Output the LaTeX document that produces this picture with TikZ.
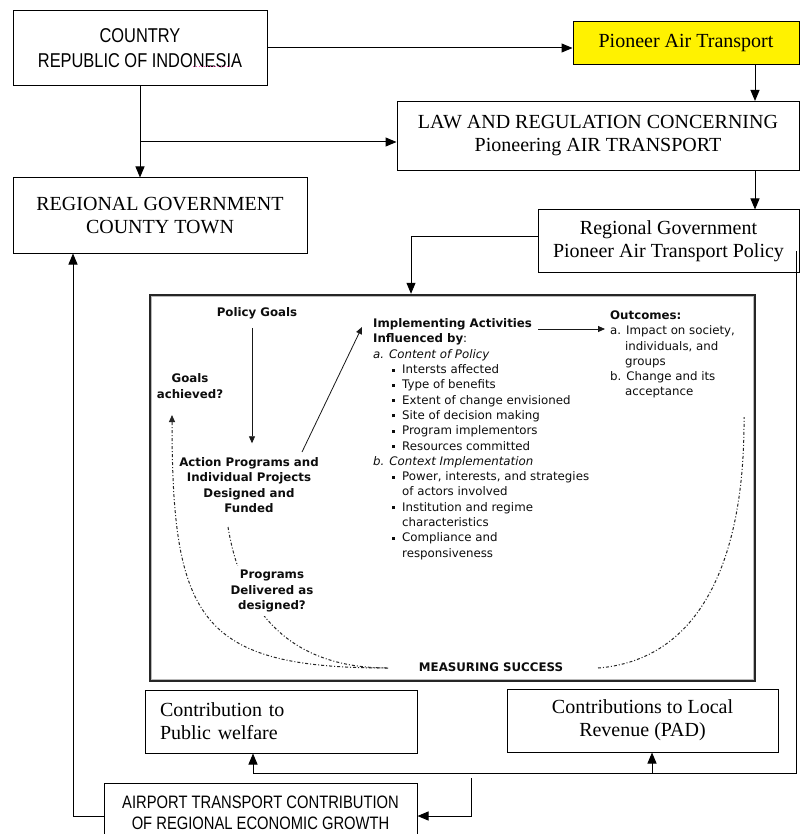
\documentclass[tikz,border=0pt]{standalone}
\usepackage{fontspec}
\setmainfont{Liberation Serif}
\newfontfamily\narrowsans[FakeStretch=0.82]{Liberation Sans}
\newfontfamily\framesans{DejaVu Sans}
\usetikzlibrary{arrows.meta}
\tikzset{>={Triangle[length=11pt,width=9pt]}}
\tikzset{
  box/.style={draw, line width=1pt, rectangle, inner sep=0pt, align=center,
    font=\fontsize{20}{23}\selectfont},
  capsbox/.style={box, font=\narrowsans\fontsize{20}{25}\selectfont},
  conn/.style={line width=1pt, ->},
  insidetext/.style={inner sep=0pt, align=center, text=black!95,
    font=\framesans\fontsize{11.8}{15.3}\selectfont},
  minorarrow/.style={line width=0.8pt, black!90, -{Triangle[length=7pt,width=6pt]}},
  dashdotline/.style={line width=1pt, black!85,
    dash pattern=on 3pt off 2pt on 1pt off 2pt}
}
\newcommand*{\sqb}{\hspace*{19pt}\rule[2pt]{3pt}{3pt}\hspace*{7pt}}
\newcommand*{\subind}{\hspace*{29pt}}
\newcommand*{\hang}{\hspace*{15pt}}

\begin{document}
\begin{tikzpicture}[x=1pt,y=-1pt]
\useasboundingbox (0,0) rectangle (800,834);
% Pixel grid, y downwards

% Upper boxes
\node[capsbox, minimum width=254pt, minimum height=75pt] (country) at (140,48)
  {COUNTRY\\REPUBLIC OF INDONESIA};
\draw[magenta!70, dotted, line width=0.8pt] (193,66) -- (231,66);
\node[box, fill=yellow, minimum width=226pt, minimum height=43pt] (pioneer) at (686,43.5)
  {Pioneer Air Transport};
\node[box, minimum width=402pt, minimum height=69pt] (law) at (598,136)
  {LAW AND REGULATION CONCERNING\\Pioneering AIR TRANSPORT};
\node[box, minimum width=294pt, minimum height=75pt] (county) at (160,215.5)
  {REGIONAL GOVERNMENT\\COUNTY TOWN};
\node[box, minimum width=261pt, minimum height=62pt] (policy) at (668.5,241)
  {Regional Government\\Pioneer Air Transport Policy};

% Upper connectors
\draw[conn] (country.east) -- (country.east -| pioneer.west);
\draw[conn] (country.south) -- (country.south |- county.north);
\coordinate (branch) at (140,142);
\draw[conn] (branch) -- (branch -| law.west);
\draw[conn] (pioneer.south -| 755,0) -- (law.north -| 755,0);
\draw[conn] (law.south -| 755,0) -- (policy.north -| 755,0);

% Implementation frame
\node[draw=black!85, line width=2.4pt, fill=white, minimum width=605pt,
  minimum height=386pt] (frame) at (452.5,488) {};
\draw[gray!55, line width=1pt] ([shift={(2.7pt,-2.7pt)}]frame.north west)
  rectangle ([shift={(-2.7pt,2.7pt)}]frame.south east);
\draw[conn] (policy.west |- 0,236) -| (frame.north -| 411,0);

% Feedback curves
\draw[dashdotline, -{Triangle[length=7pt,width=6pt]}]
  (388,668) .. controls (200,668) and (172,620) .. (172,415);
\draw[dashdotline] (228,527) .. controls (240,600) and (280,668) .. (388,668);
\draw[dashdotline] (598,668) .. controls (700,660) and (745,560) .. (744,417);

% Texts inside the frame
\node[insidetext] (goals) at (257,313) {\bfseries Policy Goals};
\node[insidetext] (achieved) at (190,386) {\bfseries Goals\\\bfseries achieved?};
\node[insidetext] (action) at (249,485)
  {\bfseries Action Programs and\\\bfseries Individual Projects\\
   \bfseries Designed and\\\bfseries Funded};
\node[insidetext, fill=white, inner sep=4pt] (delivered) at (272,591)
  {\bfseries Programs\\\bfseries Delivered as\\\bfseries designed?};
\node[insidetext, align=left, anchor=north west] (impl) at (373,318.5)
  {\textbf{Implementing Activities}\\
   \textbf{Influenced by}:\\
   \textit{a. Content of Policy}\\
   \sqb Intersts affected\\
   \sqb Type of benefits\\
   \sqb Extent of change envisioned\\
   \sqb Site of decision making\\
   \sqb Program implementors\\
   \sqb Resources committed\\
   \textit{b. Context Implementation}\\
   \sqb Power, interests, and strategies\\
   \subind of actors involved\\
   \sqb Institution and regime\\
   \subind characteristics\\
   \sqb Compliance and\\
   \subind responsiveness};
\node[insidetext, align=left, anchor=north west] (outcomes) at (610,310.5)
  {\textbf{Outcomes:}\\
   a. Impact on society,\\
   \hang individuals, and\\
   \hang groups\\
   b. Change and its\\
   \hang acceptance};
\node[insidetext] (measure) at (491,667) {\bfseries MEASURING SUCCESS};

% Arrows inside the frame
\draw[minorarrow, shorten <=9pt, shorten >=14pt] (goals.south -| 252,0) -- (action.north -| 252,0);
\coordinate (a1) at (302,452);
\coordinate (i1) at (362,327);
\draw[minorarrow] (a1) -- (i1);
\coordinate (i2) at (538,329);
\coordinate (o1) at (605,329);
\draw[minorarrow] (i2) -- (o1);

% Lower boxes
\node[box, text width=242pt, align=left, minimum width=272pt, minimum height=63pt]
  (welfare) at (281,721.5) {Contribution to\\Public welfare};
\node[box, minimum width=271pt, minimum height=63pt] (revenue) at (642.5,720.5)
  {Contributions to Local\\Revenue (PAD)};
\node[box, font=\narrowsans\fontsize{18}{21}\selectfont, minimum width=313pt,
  minimum height=59pt] (airport) at (260.5,812.5)
  {AIRPORT TRANSPORT CONTRIBUTION\\OF REGIONAL ECONOMIC GROWTH};

% Lower connectors
\coordinate (R) at (796,251);
\coordinate (S) at (796,773);
\draw[line width=1pt] (R) -- (S) -- (253,773);
\draw[conn] (253,773) -- (welfare.south -| 253,0);
\draw[conn] (652,773) -- (revenue.south -| 652,0);
\coordinate (T) at (471,778);
\draw[conn] (T) -- (471,816) -- (airport.east |- 0,816);
\draw[conn] (airport.west |- 0,816) -- (73,816) -- (county.south -| 73,0);
\end{tikzpicture}
\end{document}
